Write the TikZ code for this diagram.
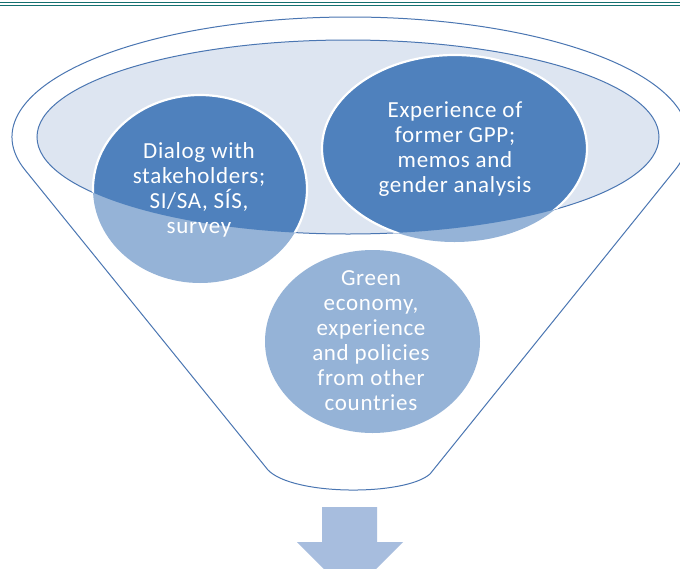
\documentclass[tikz,border=0pt]{standalone}
\usepackage{fontspec}
\setmainfont{Carlito}[LetterSpace=3]
\begin{document}
\begin{tikzpicture}[x=1pt,y=-1pt,
  funnelline/.style={draw=lineblue, line width=1pt},
  bubbledark/.style={fill=bubbledark, draw=white, line width=2.2pt},
  bubbletext/.style={text=white, align=center, inner sep=0pt,
    font=\fontsize{23}{25}\selectfont}]
  \definecolor{lineblue}{RGB}{74,118,178}
  \definecolor{bubbledark}{RGB}{79,129,189}
  \definecolor{bubblelight}{RGB}{149,179,215}
  \definecolor{rimfill}{RGB}{221,229,241}
  \definecolor{arrowblue}{RGB}{167,189,222}
  \definecolor{ruleteal}{RGB}{20,112,112}

  \useasboundingbox (0,0) rectangle (680,568);
  \clip (0,0) rectangle (680,568);
  \fill[white] (0,0) rectangle (680,568);

  % double rule along the top edge
  \draw[ruleteal, line width=1.7pt] (0,2.6) -- (680,2.6);
  \draw[ruleteal, line width=0.9pt] (0,5.8) -- (680,5.8);

  % funnel outline: upper rim arc, straight sides, rounded spout
  \draw[funnelline] (268,470) -- (24.5,169.3)
    arc[start angle=164.4, end angle=375.6, x radius=338, y radius=120]
    -- (430,474) .. controls (405,496) and (293,496) .. (268,470) -- cycle;

  % mouth of the funnel
  \draw[funnelline, fill=rimfill] (348,137) ellipse [x radius=311, y radius=97];

  % bubbles, pale where they hang below the mouth
  \fill[bubblelight] (200,189) ellipse [x radius=107, y radius=94];
  \fill[bubblelight] (454.5,148.5) ellipse [x radius=132.5, y radius=93.5];
  \fill[bubblelight] (372.5,341.5) ellipse [x radius=107.5, y radius=91.5];

  % the same bubbles, darker inside the mouth
  \begin{scope}
    \clip (348,137) ellipse [x radius=311, y radius=97];
    \draw[bubbledark] (200,189) ellipse [x radius=107, y radius=94];
    \draw[bubbledark] (454.5,148.5) ellipse [x radius=132.5, y radius=93.5];
  \end{scope}

  % labels
  \node[bubbletext] (dialog) at (199,190) {Dialog with\\stakeholders;\\SI/SA, SÍS,\\survey};
  \node[bubbletext] (former) at (455,149) {Experience of\\former GPP;\\memos and\\gender analysis};
  \node[bubbletext] (green) at (371,341) {Green\\economy,\\experience\\and policies\\from other\\countries};

  % outlet arrow below the spout
  \fill[arrowblue] (322,507) -- (377,507) -- (377,542) -- (403,542)
    -- (350,595) -- (297,542) -- (322,542) -- cycle;
\end{tikzpicture}
\end{document}
